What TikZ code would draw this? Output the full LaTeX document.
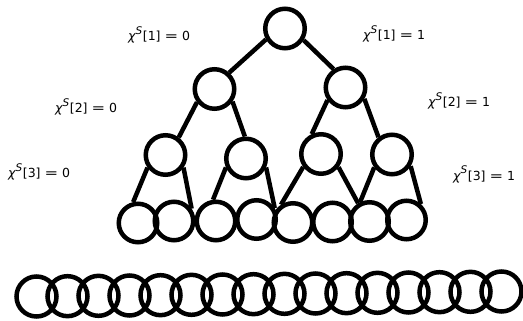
\documentclass[tikz,border=0pt]{standalone}
\usepackage{fontspec}
\usepackage{graphicx}
\setmainfont{DejaVu Sans}
\newcommand\mychi{{\itshape χ}\raisebox{0.55em}{\fontsize{10.5}{10}\selectfont\itshape S}\kern0.05em}
\newcommand\myeq{\scalebox{1.3}[1]{=}}
\begin{document}
\begin{tikzpicture}[x=1pt,y=-1pt,
  big/.style={circle,draw,line width=4.5pt,minimum size=39.5pt,inner sep=0pt},
  small/.style={circle,draw,line width=4.5pt,minimum size=38.5pt,inner sep=0pt},
  ring/.style={circle,draw,line width=4.5pt,minimum size=40pt,inner sep=0pt},
  edge/.style={line width=4.5pt},
  lab/.style={anchor=base west,inner sep=0pt,font=\fontsize{12.5}{14}\selectfont}]
\useasboundingbox (0,0) rectangle (523,321);
% level 1-3
\node[big] (r) at (285,28.5) {};
\node[big] (L) at (214.5,89) {};
\node[big] (R) at (345.5,87.5) {};
\node[big] (a) at (165.5,155) {};
\node[big] (b) at (246,158.5) {};
\node[big] (c) at (321,154) {};
\node[big] (d) at (392,154.5) {};
% level 4
\node[small] (n1) at (138,223) {};
\node[small] (n2) at (174,221) {};
\node[small] (n3) at (216,221) {};
\node[small] (n4) at (256.5,219.5) {};
\node[small] (n5) at (293,222.5) {};
\node[small] (n6) at (332.5,222) {};
\node[small] (n7) at (369.5,221.5) {};
\node[small] (n8) at (406.5,220) {};
% edges
\draw[edge] (r.210) -- (L.48);
\draw[edge] (r.-32) -- (R.123);
\draw[edge] (L.217) -- (a.53);
\draw[edge] (L.-35) -- (b.93);
\draw[edge] (R.215) -- (c.115);
\draw[edge] (R.-31) -- (d.128);
\draw[edge] (a.215) -- (n1.103);
\draw[edge] (a.-35) -- (n2.35);
\draw[edge] (b.204) -- (n3.98);
\draw[edge] (b.-24) -- (n4.32);
\draw[edge] (c.216) -- (n5.124);
\draw[edge] (c.-37) -- (n7.122);
\draw[edge] (d.216) -- (n7.116);
\draw[edge] (d.-32) -- (n8.48);
% bottom row
\foreach \i in {0,...,15}{
  \node[ring] (m\i) at ({36.5+31*\i},{296.5-5*\i/15}) {};
}
% labels
\node[lab] (t1) at (128,41) {\mychi[1] \myeq{} 0};
\node[lab] (t2) at (363,40) {\mychi[1] \myeq{} 1};
\node[lab] (t3) at (55,113) {\mychi[2] \myeq{} 0};
\node[lab] (t4) at (428,107) {\mychi[2] \myeq{} 1};
\node[lab] (t5) at (8,178) {\mychi[3] \myeq{} 0};
\node[lab] (t6) at (453,180) {\mychi[3] \myeq{} 1};
\end{tikzpicture}
\end{document}
